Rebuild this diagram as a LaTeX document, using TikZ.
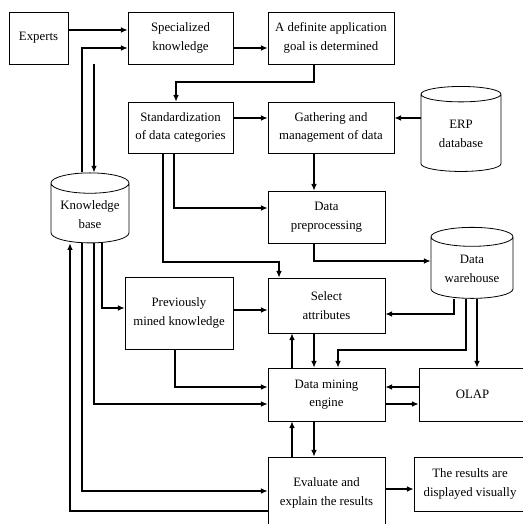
\documentclass[tikz,border=0pt]{standalone}
\usepackage{fontspec}
\setmainfont{Liberation Serif}
\usetikzlibrary{shapes.geometric,arrows.meta}
\tikzset{
  box/.style={draw, rectangle, align=center, inner sep=1pt, line width=0.6pt,
    minimum height=39pt, font=\fontsize{9.6}{14}\selectfont},
  db/.style={draw, cylinder, shape border rotate=90, aspect=0.33, align=center,
    inner sep=1pt, line width=0.6pt, font=\fontsize{9.6}{14}\selectfont},
  arr/.style={-{Latex[length=5pt,width=4.2pt]}, line width=0.8pt}
}
\begin{document}
\begin{tikzpicture}[x=0.75pt,y=-0.75pt]
\useasboundingbox (0,0) rectangle (522,524);
% boxes
\node[box, minimum width=44.25pt] (experts) at (38.5,38) {Experts};
\node[box, minimum width=78.75pt] (spec) at (180.5,38) {Specialized\\knowledge};
\node[box, minimum width=94.5pt] (goal) at (331,38) {A definite application\\goal is determined};
\node[box, minimum width=78.75pt, minimum height=38.25pt] (std) at (180.5,127.5) {Standardization\\of data categories};
\node[box, minimum width=94.5pt, minimum height=38.25pt] (gather) at (331,127.5) {Gathering and\\management of data};
\node[box, minimum width=87.75pt] (prep) at (326.5,217) {Data\\preprocessing};
\node[box, minimum width=81pt, minimum height=54pt] (prev) at (179,313) {Previously\\mined knowledge};
\node[box, minimum width=87.75pt, minimum height=41.25pt] (select) at (326.5,305.5) {Select\\attributes};
\node[box, minimum width=87.75pt, minimum height=39.75pt] (dm) at (326.5,394.5) {Data mining\\engine};
\node[box, minimum width=80.25pt, minimum height=39.75pt] (olap) at (472.5,394.5) {OLAP};
\node[box, minimum width=87.75pt, minimum height=54pt] (eval) at (326.5,493) {Evaluate and\\explain the results};
\node[box, minimum width=84pt, minimum height=40.5pt] (res) at (470,484) {The results are\\displayed visually};
% databases
\node[db, minimum width=58.5pt, minimum height=52.5pt] (kb) at (90,214.5) {Knowledge\\base};
\node[db, minimum width=60pt, minimum height=63.75pt] (erp) at (461,134) {ERP\\database};
\node[db, minimum width=61.5pt, minimum height=53.25pt] (dw) at (472,269) {Data\\warehouse};
% top row
\draw[arr] (experts.east |- 0,30) -- (spec.west |- 0,30);
\draw[arr] (spec.east |- 0,48) -- (goal.west |- 0,48);
\draw[arr] (kb.north -| 82,0) |- (spec.west |- 0,48);
\draw[arr] (spec.south -| 94,0) -- (kb.north -| 94,0);
\draw[arr] (goal.south -| 314,0) |- (176,82) -- (std.north -| 176,0);
% data side
\draw[arr] (std.east |- 0,118) -- (gather.west |- 0,118);
\draw[arr] (erp.west |- 0,118) -- (gather.east |- 0,118);
\draw[arr] (std.south -| 174,0) |- (prep.west |- 0,208);
\draw[arr] (std.south -| 163,0) |- (279,262) -- (select.north -| 279,0);
\draw[arr] (gather.south -| 314,0) -- (prep.north -| 314,0);
\draw[arr] (prep.south -| 314,0) |- (dw.west |- 0,261);
\draw[arr] (dw.south -| 454,0) |- (select.east |- 0,314);
\draw[arr] (dw.south -| 466,0) |- (338,350) -- (dm.north -| 338,0);
\draw[arr] (dw.south -| 477,0) -- (olap.north -| 477,0);
% mining
\draw[arr] (select.south -| 314,0) -- (dm.north -| 314,0);
\draw[arr] (dm.north -| 292,0) -- (select.south -| 292,0);
\draw[arr] (prev.east |- 0,310) -- (select.west |- 0,310);
\draw[arr] (kb.south -| 102,0) |- (prev.west |- 0,308);
\draw[arr] (prev.south -| 175,0) |- (dm.west |- 0,387);
\draw[arr] (kb.south -| 94,0) |- (dm.west |- 0,404);
\draw[arr] (olap.west |- 0,387) -- (dm.east |- 0,387);
\draw[arr] (dm.east |- 0,404) -- (olap.west |- 0,404);
% results
\draw[arr] (dm.south -| 314,0) -- (eval.north -| 314,0);
\draw[arr] (eval.north -| 292,0) -- (dm.south -| 292,0);
\draw[arr] (kb.south -| 82,0) |- (eval.west |- 0,491);
\draw[arr] (eval.west |- 0,511) -| (kb.south -| 70,0);
\draw[arr] (eval.east |- 0,489) -- (res.west |- 0,489);
\end{tikzpicture}
\end{document}
